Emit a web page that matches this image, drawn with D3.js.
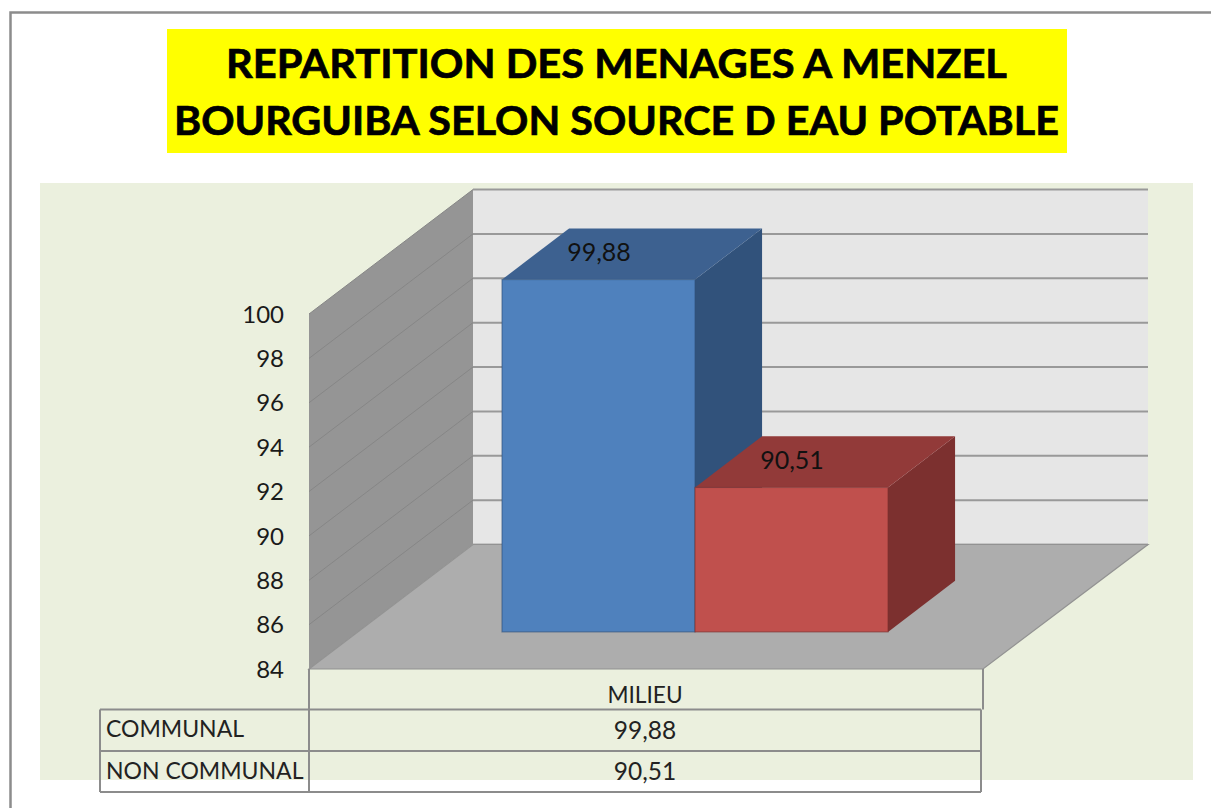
<!DOCTYPE html>
<html><head><meta charset="utf-8">
<script src="https://cdn.jsdelivr.net/npm/d3@7"></script>
<style>html,body{margin:0;padding:0;background:#fff;overflow:hidden}svg{display:block}text{font-family:Lato,"Open Sans",sans-serif}</style>
</head><body>
<svg id="c" width="1211" height="808"></svg>
<script>
const titleLines = ["REPARTITION DES MENAGES A MENZEL", "BOURGUIBA SELON SOURCE D EAU POTABLE"];
const seriesNames = ["COMMUNAL", "NON COMMUNAL"];
const seriesValues = [99.88, 90.51];
const categoryName = "MILIEU";
const yTicks = [84, 86, 88, 90, 92, 94, 96, 98, 100];
const frontColors = ["#4f81bd", "#c0504d"];
const topColors = ["#3d6190", "#923a39"];
const sideColors = ["#31527b", "#7c302f"];

(function () {
const svg = d3.select("#c");
const grey = "#8c8c8c";
const fmt = d3.formatLocale({decimal: ",", thousands: " ", grouping: [3], currency: ["", ""]}).format(".2f");

// frame
svg.append("path").attr("d", "M10.5 808V12.5H1211").attr("fill", "none").attr("stroke", grey).attr("stroke-width", 2.5);
// panel
svg.append("rect").attr("x", 40).attr("y", 183).attr("width", 1153).attr("height", 597).attr("fill", "#ebf0de");
// title
svg.append("rect").attr("x", 167).attr("y", 29).attr("width", 900).attr("height", 124).attr("fill", "#ffff00");
const titleWidths = [781, 885];
svg.selectAll("text.title").data(titleLines).join("text").attr("class", "title")
  .attr("x", 616.5).attr("y", (d, i) => 78 + i * 57)
  .attr("text-anchor", "middle").attr("font-size", 41).attr("font-weight", 700).attr("fill", "#000")
  .attr("stroke", "#000").attr("stroke-width", 0.7)
  .attr("textLength", (d, i) => titleWidths[i]).attr("lengthAdjust", "spacingAndGlyphs").text(d => d);

// scales
const y = d3.scaleLinear().domain([84, 100]).range([669, 314]);
const x = d3.scaleBand().domain(seriesNames).range([502, 888]).padding(0);
const floorX = [309, 983];
const depth = {dx: 164, dy: -124.5};
const off = (px, py, t) => [px + depth.dx * t, py + depth.dy * t];
const poly = pts => "M" + pts.map(p => p.join(" ")).join("L") + "Z";
const yBase = y.domain()[0], yMax = y.domain()[1];

const backTop = y(yMax) + depth.dy, backBot = y(yBase) + depth.dy;
// back wall
svg.append("rect").attr("x", floorX[0] + depth.dx).attr("y", backTop).attr("width", floorX[1] - floorX[0] + 1).attr("height", backBot - backTop).attr("fill", "#e6e6e6");
// side wall
svg.append("path").attr("d", poly([[floorX[0], y(yBase)], [floorX[0], y(yMax)], off(floorX[0], y(yMax), 1), off(floorX[0], y(yBase), 1)])).attr("fill", "#959595");
// gridlines
svg.selectAll("line.back").data(yTicks).join("line").attr("class", "back")
  .attr("x1", floorX[0] + depth.dx).attr("x2", floorX[1] + depth.dx + 1)
  .attr("y1", d => y(d) + depth.dy).attr("y2", d => y(d) + depth.dy)
  .attr("stroke", d => d === yBase ? "#a8a8a8" : "#999").attr("stroke-width", 2);
svg.selectAll("line.side").data(yTicks.slice(1)).join("line").attr("class", "side")
  .attr("x1", floorX[0]).attr("y1", d => y(d))
  .attr("x2", floorX[0] + depth.dx).attr("y2", d => y(d) + depth.dy)
  .attr("stroke", "#868686").attr("stroke-width", 1);
// floor
svg.append("path").attr("d", poly([[floorX[0], y(yBase)], off(floorX[0], y(yBase), 1), off(floorX[1] + 1, y(yBase), 1), [floorX[1], y(yBase)]]))
  .attr("fill", "#adadad").attr("stroke", "#929292").attr("stroke-width", 1.2);
// tick labels
svg.selectAll("text.tick").data(yTicks).join("text").attr("class", "tick")
  .attr("x", 284).attr("y", d => y(d)).attr("dy", "0.36em").attr("text-anchor", "end")
  .attr("font-size", 24).attr("fill", "#1a1a1a").text(d => d);

// bars
const t0 = 0.298, t1 = 0.709;
const barY0 = y(yBase) + depth.dy * t0;
const dT = t1 - t0;
const barOff = (px, py) => [px + depth.dx * dT * 0.995, py + depth.dy * dT];
const barTop = v => barY0 - (y(yBase) - y(v));
const barX = i => x(seriesNames[i]);
const bw = x.bandwidth();
const bars = svg.selectAll("g.bar").data(seriesValues).join("g").attr("class", "bar");
// side face
bars.append("path").attr("d", (v, i) => {
  const r = barX(i) + bw;
  return poly([[r, barY0], [r, barTop(v)], barOff(r, barTop(v)), barOff(r, barY0)]);
}).attr("fill", (v, i) => sideColors[i]);
// top face
bars.append("path").attr("d", (v, i) => {
  const l = barX(i), r = l + bw, t = barTop(v);
  return poly([[l, t], [r, t], barOff(r, t), barOff(l, t)]);
}).attr("fill", (v, i) => topColors[i]);
// front face
bars.append("rect").attr("x", (v, i) => barX(i)).attr("y", v => barTop(v))
  .attr("width", bw).attr("height", v => barY0 - barTop(v))
  .attr("fill", (v, i) => frontColors[i])
  .attr("stroke", (v, i) => sideColors[i]).attr("stroke-opacity", .6).attr("stroke-width", 1.2);
// data labels
bars.append("text").attr("x", (v, i) => barX(i) + bw / 2 + 0.5).attr("y", v => barTop(v) - 27.5).attr("dy", "0.36em")
  .attr("text-anchor", "middle").attr("font-size", 25).attr("fill", "#111").text(v => fmt(v));

// data table
const rowY = [669, 709.5, 751, 792];
const tableL = 100, tableM = 309, tableR = 981;
const tg = svg.append("g").attr("fill", "none").attr("stroke", grey).attr("stroke-width", 2);
tg.append("line").attr("x1", tableM).attr("x2", tableM).attr("y1", rowY[0]).attr("y2", rowY[3]);
tg.append("line").attr("x1", floorX[1]).attr("x2", floorX[1]).attr("y1", rowY[0]).attr("y2", rowY[1]);
tg.append("line").attr("x1", tableR).attr("x2", tableR).attr("y1", rowY[1]).attr("y2", rowY[3]);
tg.append("line").attr("x1", tableL).attr("x2", tableL).attr("y1", rowY[1]).attr("y2", rowY[3]);
[1, 2, 3].forEach(k => tg.append("line").attr("x1", tableL).attr("x2", tableR).attr("y1", rowY[k]).attr("y2", rowY[k]));
const cx = (tableM + tableR) / 2;
svg.append("text").attr("x", cx).attr("y", 695).attr("dy", "0.36em").attr("text-anchor", "middle").attr("font-size", 22.7).attr("fill", "#222").text(categoryName);
svg.selectAll("text.name").data(seriesNames).join("text").attr("class", "name")
  .attr("x", 106).attr("y", (d, i) => 729 + i * 42).attr("dy", "0.36em").attr("font-size", 23).attr("fill", "#222").text(d => d);
svg.selectAll("text.val").data(seriesValues).join("text").attr("class", "val")
  .attr("x", cx).attr("y", (d, i) => 730 + i * 41).attr("dy", "0.36em").attr("text-anchor", "middle").attr("font-size", 24.5).attr("fill", "#222").text(d => fmt(d));
})();
</script>
</body></html>
